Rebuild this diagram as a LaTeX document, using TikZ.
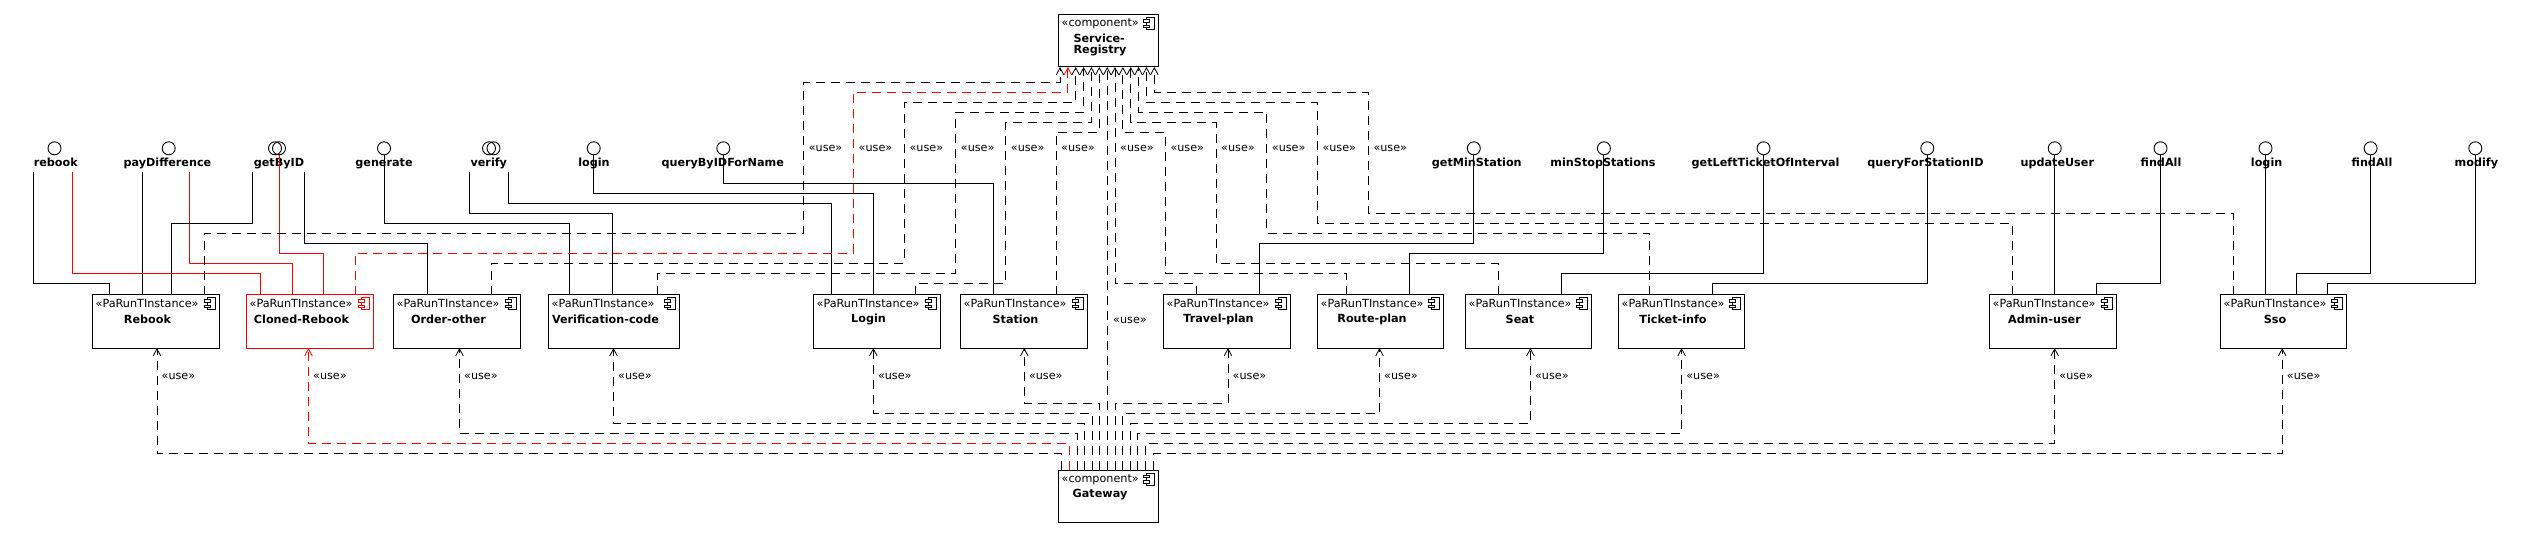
\documentclass[tikz,border=0pt]{standalone}
\usepackage{fontspec}
\setmainfont{DejaVu Sans}
\usetikzlibrary{arrows.meta}
\tikzset{
  compicon/.pic={
    \draw[line width=0.8pt, fill=white] (-3,-6) rectangle (5,6);
    \draw[line width=0.8pt, fill=white] (-6,-4) rectangle (0,-1.5);
    \draw[line width=0.8pt, fill=white] (-6,1.5) rectangle (0,4);
  }
}
\newcommand\runbox[5]{%
  \node[cbox, draw=#5, minimum width=#3pt] (#1) at (#2,295) {};
  \node[stereo] (#1-st) at (#2+3.5,303.5) {«PaRunTInstance»};
  \pic[#5] at (#2+#3-9,303.5) {compicon};
  \node[nm] (#1-nm) at (#2+#3/2-8,319.5) {#4};
}
\newcommand\iface[4]{%
  \node[ifc] (#1) at (#2,148.3) {};
  \node[ifl] (#1-l) at (#3,166.5) {#4};
}
\begin{document}
\begin{tikzpicture}[x=1pt,y=-1pt,
  sol/.style={line width=0.9pt},
  dep/.style={line width=0.9pt, dash pattern=on 9pt off 6pt},
  tip/.style={-{Straight Barb[length=7pt,width=7.5pt,line width=0.8pt]}},
  cbox/.style={draw, line width=1pt, fill=white, inner sep=0pt, outer sep=0pt, minimum height=53pt, anchor=north west},
  stereo/.style={font=\fontsize{11.2}{13}\selectfont, inner sep=0pt, anchor=west},
  nm/.style={font=\fontsize{11.2}{11.8}\selectfont\bfseries, inner sep=0pt},
  uselbl/.style={font=\fontsize{11.2}{13}\selectfont, inner sep=0pt, anchor=west},
  ifc/.style={circle, draw, line width=0.9pt, minimum size=13pt, inner sep=0pt, outer sep=0pt},
  ifl/.style={font=\fontsize{11.2}{13}\selectfont\bfseries, inner sep=0pt, anchor=base, text depth=5.5pt},
]
\useasboundingbox (0,0) rectangle (2532,537);
\fill[white] (0,0) rectangle (2532,537);

% ---------- components ----------
\runbox{Rebook}{92}{127}{Rebook}{black}
\runbox{ClonedRebook}{246}{127}{Cloned-Rebook}{red}
\runbox{OrderOther}{393}{127}{Order-other}{black}
\runbox{VerificationCode}{548}{131}{Verification-code}{black}
\runbox{Login}{813}{127}{Login}{black}
\runbox{Station}{960}{127}{Station}{black}
\runbox{TravelPlan}{1163}{127}{Travel-plan}{black}
\runbox{RoutePlan}{1317}{126}{Route-plan}{black}
\runbox{Seat}{1465}{126}{Seat}{black}
\runbox{TicketInfo}{1618}{126}{Ticket-info}{black}
\runbox{AdminUser}{1989}{127}{Admin-user}{black}
\runbox{Sso}{2220}{126}{Sso}{black}

\node[cbox, minimum width=100pt, minimum height=52pt] (reg) at (1058.5,15) {};
\node[stereo] (reg-st) at (1061.5,24) {«component»};
\pic at (1149.5,23.8) {compicon};
\node[nm, align=left] (reg-nm) at (1100,45) {Service-\\Registry};

\node[cbox, minimum width=100pt, minimum height=52pt] (gw) at (1058.5,470) {};
\node[stereo] (gw-st) at (1061.5,479.3) {«component»};
\pic at (1149.5,479) {compicon};
\node[nm] (gw-nm) at (1100,494.3) {Gateway};

% ---------- interfaces ----------
\iface{iRebook}{54.5}{55.8}{rebook}
\iface{iPay}{168.7}{167.4}{payDifference}
\node[ifc] (iGetA) at (275,148.3) {};
\iface{iGet}{279}{279}{getByID}
\iface{iGen}{384}{384}{generate}
\node[ifc] (iVerA) at (489,148.3) {};
\iface{iVer}{493.5}{488.8}{verify}
\iface{iLog}{593.7}{594}{login}
\iface{iQry}{723.3}{722.7}{queryByIDForName}
\iface{iMin}{1473.8}{1476.8}{getMinStation}
\iface{iStop}{1603.9}{1603}{minStopStations}
\iface{iLeft}{1763.5}{1765.6}{getLeftTicketOfInterval}
\iface{iQfs}{1927.3}{1925.5}{queryForStationID}
\iface{iUpd}{2054.7}{2057.3}{updateUser}
\iface{iFa}{2160.5}{2161}{findAll}
\iface{iLog2}{2265.5}{2266.6}{login}
\iface{iFa2}{2370.6}{2372}{findAll}
\iface{iMod}{2475.3}{2476.4}{modify}

% ---------- provided interface connectors ----------
\draw[sol] (iRebook-l.south -| 33,0) -- (33,283.3) -- (109.4,283.3) -- (109.4,0 |- Rebook.north);
\draw[sol,red] (iRebook-l.south -| 72.8,0) -- (72.8,273.3) -- (260.3,273.3) -- (260.3,0 |- ClonedRebook.north);
\draw[sol] (iPay-l.south -| 142,0) -- (142,0 |- Rebook.north);
\draw[sol,red] (iPay-l.south -| 189.7,0) -- (189.7,263.3) -- (292.4,263.3) -- (292.4,0 |- ClonedRebook.north);
\draw[sol] (iGet-l.south -| 252.2,0) -- (252.2,223.3) -- (171.9,223.3) -- (171.9,0 |- Rebook.north);
\draw[sol,red] (iGet.south) -- (279,253.3) -- (323.6,253.3) -- (323.6,0 |- ClonedRebook.north);
\draw[sol] (iGet-l.south -| 304.9,0) -- (304.9,243.3) -- (427.2,243.3) -- (427.2,0 |- OrderOther.north);
\draw[sol] (iGen.south) -- (384,223.3) -- (569.2,223.3) -- (569.2,0 |- VerificationCode.north);
\draw[sol] (iVer-l.south -| 469.6,0) -- (469.6,213.3) -- (612.5,213.3) -- (612.5,0 |- VerificationCode.north);
\draw[sol] (iVer-l.south -| 508.9,0) -- (508.9,203.3) -- (831,203.3) -- (831,0 |- Login.north);
\draw[sol] (iLog.south) -- (593.7,193.3) -- (873.3,193.3) -- (873.3,0 |- Login.north);
\draw[sol] (iQry.south) -- (723.3,183.3) -- (993.3,183.3) -- (993.3,0 |- Station.north);
\draw[sol] (iMin.south) -- (1473.8,243.3) -- (1259.3,243.3) -- (1259.3,0 |- TravelPlan.north);
\draw[sol] (iStop.south) -- (1603.9,253.3) -- (1409.9,253.3) -- (1409.9,0 |- RoutePlan.north);
\draw[sol] (iLeft.south) -- (1763.5,273.3) -- (1561,273.3) -- (1561,0 |- Seat.north);
\draw[sol] (iQfs.south) -- (1927.3,283.3) -- (1712.2,283.3) -- (1712.2,0 |- TicketInfo.north);
\draw[sol] (iUpd.south) -- (2054.7,0 |- AdminUser.north);
\draw[sol] (iFa.south) -- (2160.5,283.3) -- (2096.6,283.3) -- (2096.6,0 |- AdminUser.north);
\draw[sol] (iLog2.south) -- (2265.5,0 |- Sso.north);
\draw[sol] (iFa2.south) -- (2370.6,273.3) -- (2296.3,273.3) -- (2296.3,0 |- Sso.north);
\draw[sol] (iMod.south) -- (2475.3,283.3) -- (2327.9,283.3) -- (2327.9,0 |- Sso.north);

% ---------- usage of Service-Registry ----------
\draw[dep,tip] (204,0 |- Rebook.north) -- (204,233.3) -- (803.6,233.3) -- (803.6,82.3) -- (1060,82.3) -- (1060,0 |- reg.south);
\draw[dep,tip,red] (355,0 |- ClonedRebook.north) -- (355,253.3) -- (853.5,253.3) -- (853.5,92.3) -- (1067.9,92.3) -- (1067.9,0 |- reg.south);
\draw[dep,tip] (491,0 |- OrderOther.north) -- (491,263.3) -- (904.4,263.3) -- (904.4,102.3) -- (1075.7,102.3) -- (1075.7,0 |- reg.south);
\draw[dep,tip] (657.7,0 |- VerificationCode.north) -- (657.7,273.3) -- (955.7,273.3) -- (955.7,112.3) -- (1083.6,112.3) -- (1083.6,0 |- reg.south);
\draw[dep,tip] (915.7,0 |- Login.north) -- (915.7,283.3) -- (1005.7,283.3) -- (1005.7,122.3) -- (1091.4,122.3) -- (1091.4,0 |- reg.south);
\draw[dep,tip] (1056,0 |- Station.north) -- (1056,132.3) -- (1099.3,132.3) -- (1099.3,0 |- reg.south);
\draw[dep,tip] (1107.2,0 |- gw.north) -- (1107.2,0 |- reg.south);
\draw[dep,tip] (1196.7,0 |- TravelPlan.north) -- (1196.7,283.3) -- (1115,283.3) -- (1115,0 |- reg.south);
\draw[dep,tip] (1346.7,0 |- RoutePlan.north) -- (1346.7,273.3) -- (1165.3,273.3) -- (1165.3,132.3) -- (1122.9,132.3) -- (1122.9,0 |- reg.south);
\draw[dep,tip] (1498.6,0 |- Seat.north) -- (1498.6,263.3) -- (1216,263.3) -- (1216,122.3) -- (1130.7,122.3) -- (1130.7,0 |- reg.south);
\draw[dep,tip] (1649.8,0 |- TicketInfo.north) -- (1649.8,233.3) -- (1266.7,233.3) -- (1266.7,112.3) -- (1138.6,112.3) -- (1138.6,0 |- reg.south);
\draw[dep,tip] (2012.4,0 |- AdminUser.north) -- (2012.4,223.3) -- (1317.3,223.3) -- (1317.3,102.3) -- (1146.5,102.3) -- (1146.5,0 |- reg.south);
\draw[dep,tip] (2233.2,0 |- Sso.north) -- (2233.2,213.3) -- (1368.3,213.3) -- (1368.3,92.3) -- (1154.3,92.3) -- (1154.3,0 |- reg.south);

\node[uselbl] (ur1) at (808.6,148.3) {«use»};
\node[uselbl] (ur2) at (858.5,148.3) {«use»};
\node[uselbl] (ur3) at (909.4,148.3) {«use»};
\node[uselbl] (ur4) at (960.7,148.3) {«use»};
\node[uselbl] (ur5) at (1010.7,148.3) {«use»};
\node[uselbl] (ur6) at (1061,148.3) {«use»};
\node[uselbl] (ur8) at (1120,148.3) {«use»};
\node[uselbl] (ur9) at (1170.3,148.3) {«use»};
\node[uselbl] (ur10) at (1221,148.3) {«use»};
\node[uselbl] (ur11) at (1271.7,148.3) {«use»};
\node[uselbl] (ur12) at (1322.3,148.3) {«use»};
\node[uselbl] (ur13) at (1373.3,148.3) {«use»};
\node[uselbl] (ur7) at (1113,320) {«use»};

% ---------- usage by Gateway ----------
\draw[dep,tip] (1061.7,0 |- gw.north) -- (1061.7,453.3) -- (157,453.3) -- (157,0 |- Rebook.south);
\draw[dep,tip,red] (1069.3,0 |- gw.north) -- (1069.3,443.3) -- (308.5,443.3) -- (308.5,0 |- ClonedRebook.south);
\draw[dep,tip] (1077,0 |- gw.north) -- (1077,433.3) -- (459.5,433.3) -- (459.5,0 |- OrderOther.south);
\draw[dep,tip] (1084.6,0 |- gw.north) -- (1084.6,423.3) -- (613.5,423.3) -- (613.5,0 |- VerificationCode.south);
\draw[dep,tip] (1092.2,0 |- gw.north) -- (1092.2,413.3) -- (873.3,413.3) -- (873.3,0 |- Login.south);
\draw[dep,tip] (1099.8,0 |- gw.north) -- (1099.8,403.3) -- (1024.3,403.3) -- (1024.3,0 |- Station.south);
\draw[dep,tip] (1115,0 |- gw.north) -- (1115,403.3) -- (1228,403.3) -- (1228,0 |- TravelPlan.south);
\draw[dep,tip] (1122.6,0 |- gw.north) -- (1122.6,413.3) -- (1379.5,413.3) -- (1379.5,0 |- RoutePlan.south);
\draw[dep,tip] (1130.2,0 |- gw.north) -- (1130.2,423.3) -- (1530.4,423.3) -- (1530.4,0 |- Seat.south);
\draw[dep,tip] (1137.8,0 |- gw.north) -- (1137.8,433.3) -- (1681.6,433.3) -- (1681.6,0 |- TicketInfo.south);
\draw[dep,tip] (1145.6,0 |- gw.north) -- (1145.6,443.3) -- (2054.7,443.3) -- (2054.7,0 |- AdminUser.south);
\draw[dep,tip] (1153.3,0 |- gw.north) -- (1153.3,453.3) -- (2282.2,453.3) -- (2282.2,0 |- Sso.south);

\node[uselbl] (ug1) at (161.5,376.7) {«use»};
\node[uselbl] (ug2) at (313,376.7) {«use»};
\node[uselbl] (ug3) at (464,376.7) {«use»};
\node[uselbl] (ug4) at (618,376.7) {«use»};
\node[uselbl] (ug5) at (877.8,376.7) {«use»};
\node[uselbl] (ug6) at (1028.8,376.7) {«use»};
\node[uselbl] (ug8) at (1232.5,376.7) {«use»};
\node[uselbl] (ug9) at (1384,376.7) {«use»};
\node[uselbl] (ug10) at (1534.9,376.7) {«use»};
\node[uselbl] (ug11) at (1686.1,376.7) {«use»};
\node[uselbl] (ug12) at (2059.2,376.7) {«use»};
\node[uselbl] (ug13) at (2286.7,376.7) {«use»};
\end{tikzpicture}
\end{document}
